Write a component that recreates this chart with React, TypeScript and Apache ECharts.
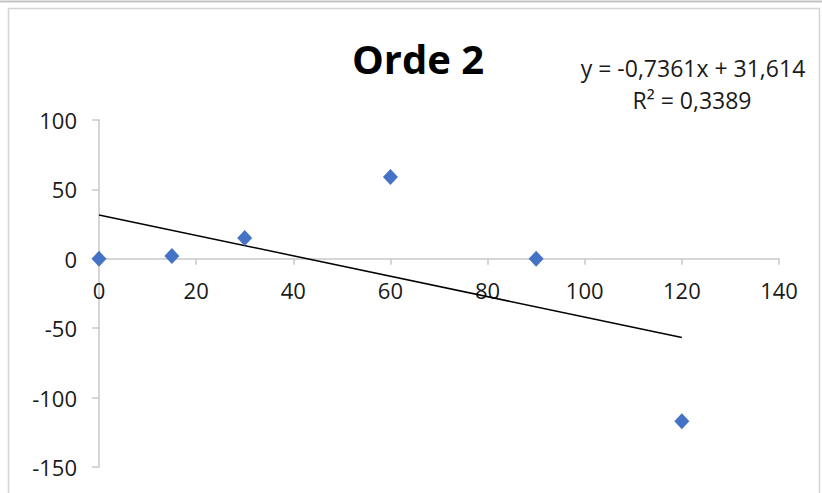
import React, { useEffect, useRef } from "react";
import * as echarts from "echarts";

const xValues = [0, 15, 30, 60, 90, 120];
const yValues = [0, 2, 15, 59, 0, -117];
const trendSlope = -0.7361;
const trendIntercept = 31.614;
const trendRange = [0, 120];
const titleText = "Orde 2";
const equationLines = ["y = -0,7361x + 31,614", "R² = 0,3389"];

const FONT = "'Open Sans', 'Liberation Sans', sans-serif";

const GRID_TOP = 120;
const GRID_BOTTOM = 26;
const Y_MIN = -150;
const Y_MAX = 100;

export default function App() {
  const ref = useRef<HTMLDivElement>(null);
  useEffect(() => {
    document.body.style.margin = "0";
    const chart = echarts.init(ref.current!, null, { renderer: "svg" });
    const points = xValues.map((x, i) => [x, yValues[i]]);
    const trend = trendRange.map((x) => [x, trendSlope * x + trendIntercept]);
    const gridH = 493 - GRID_TOP - GRID_BOTTOM;
    const zeroOffset = -(gridH * (0 - Y_MIN)) / (Y_MAX - Y_MIN);
    chart.setOption({
      animation: false,
      backgroundColor: "#ffffff",
      grid: {
        left: 99,
        right: 43,
        top: GRID_TOP,
        bottom: GRID_BOTTOM,
        containLabel: false,
        outerBoundsMode: "none",
      },
      xAxis: {
        type: "value",
        min: 0,
        max: 140,
        interval: 20,
        position: "bottom",
        offset: zeroOffset,
        axisLine: { show: true, onZero: false, lineStyle: { color: "#c8c8c8", width: 1.5 } },
        axisTick: { show: true, length: 6, lineStyle: { color: "#c8c8c8", width: 1.5 } },
        axisLabel: { color: "#1a1a1a", fontSize: 22, fontFamily: FONT, margin: 20 },
        splitLine: { show: false },
      },
      yAxis: {
        type: "value",
        min: Y_MIN,
        max: Y_MAX,
        interval: 50,
        axisLine: { show: true, onZero: false, lineStyle: { color: "#c8c8c8", width: 1.5 } },
        axisTick: { show: true, length: 7, lineStyle: { color: "#c8c8c8", width: 1.5 } },
        axisLabel: { color: "#1a1a1a", fontSize: 22, fontFamily: FONT, margin: 22 },
        splitLine: { show: false },
      },
      series: [
        {
          type: "line",
          data: trend,
          symbol: "none",
          lineStyle: { color: "#000000", width: 1.5 },
          z: 3,
        },
        {
          type: "scatter",
          data: points,
          symbol: "diamond",
          symbolSize: [15, 16],
          itemStyle: { color: "#4472C4", opacity: 1 },
          z: 4,
        },
      ],
      graphic: [
        {
          type: "line",
          shape: { x1: 0, y1: 1.5, x2: 822, y2: 1.5 },
          style: { stroke: "#c4c4c4", lineWidth: 2 },
        },
        {
          type: "rect",
          shape: { x: 8.5, y: 8.5, width: 811, height: 500 },
          style: { fill: "none", stroke: "#d4d4d4", lineWidth: 1.5 },
        },
        {
          type: "text",
          style: {
            text: titleText,
            x: 418,
            y: 58,
            align: "center",
            verticalAlign: "middle",
            font: `bold 40px ${FONT}`,
            fill: "#000000",
          },
        },
        {
          type: "text",
          style: {
            text: equationLines[0],
            x: 693,
            y: 68,
            align: "center",
            verticalAlign: "middle",
            font: `23px ${FONT}`,
            fill: "#1a1a1a",
          },
        },
        {
          type: "text",
          style: {
            text: equationLines[1],
            x: 692,
            y: 100,
            align: "center",
            verticalAlign: "middle",
            font: `23px ${FONT}`,
            fill: "#1a1a1a",
          },
        },
      ],
    });
    return () => chart.dispose();
  }, []);
  return <div ref={ref} style={{ width: 822, height: 493 }} />;
}
